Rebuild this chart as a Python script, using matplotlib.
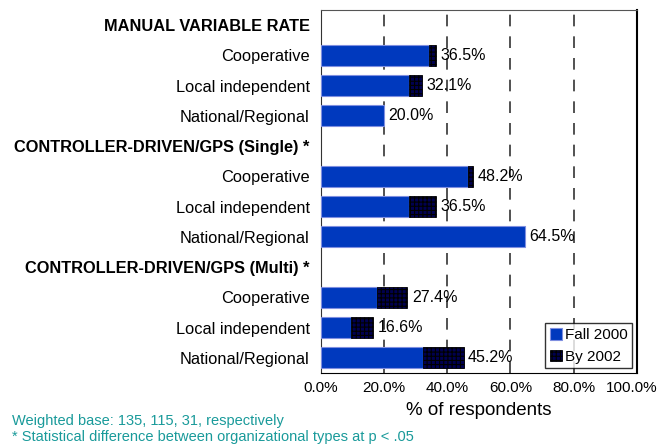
import matplotlib
matplotlib.use("Agg")
import matplotlib.pyplot as plt
import numpy as np

# labels, top to bottom (headers included as their own rows)
etiquetas = ["MANUAL VARIABLE RATE", "Cooperative", "Local independent", "National/Regional",
             "CONTROLLER-DRIVEN/GPS (Single) *", "Cooperative", "Local independent", "National/Regional",
             "CONTROLLER-DRIVEN/GPS (Multi) *", "Cooperative", "Local independent", "National/Regional"]
cabecalho = [True, False, False, False, True, False, False, False, True, False, False, False]

# % of respondents (None = header row)
fall2000 = [None, 34.2, 27.8, 20.0, None, 46.5, 27.8, 64.5, None, 17.7, 9.5, 32.3]
by2002 = [None, 36.5, 32.1, 20.0, None, 48.2, 36.5, 64.5, None, 27.4, 16.6, 45.2]
xticks = [0, 20, 40, 60, 80, 100]

azul = "#0039BE"
escuro = "#000050"

plt.rcParams['font.family'] = ['Liberation Sans', 'DejaVu Sans']
plt.rcParams['hatch.color'] = 'black'
plt.rcParams['hatch.linewidth'] = 0.8

fig = plt.figure(figsize=(6.6, 4.46), dpi=100)
ax = fig.add_axes([0.486, 0.1637, 0.479, 0.814])

y = np.arange(len(etiquetas))
for i in range(len(etiquetas)):
    if cabecalho[i]:
        continue
    f = fall2000[i]
    b = by2002[i]
    ax.barh(y[i], f, height=0.7, color=azul, edgecolor="#7F8FE0", linewidth=0.8, zorder=3,
            label="Fall 2000" if i == 1 else None)
    if b - f > 0:
        ax.barh(y[i], b - f, left=f, height=0.7, color=escuro, edgecolor="black", hatch="++++",
                linewidth=0.6, zorder=3, label="By 2002" if i == 1 else None)
    ax.text(b + 1.4, y[i], "%.1f%%" % b, va="center", ha="left", fontsize=11.5, zorder=4)

ax.set_xlim(0, 100)
ax.set_ylim(len(etiquetas) - 0.5, -0.5)
ax.set_xticks(xticks)
rotulos = ["%.1f%%" % v for v in xticks]
# o ultimo rotulo vai a parte, deslocado para nao sair da figura
ax.set_xticklabels(rotulos[:-1] + [""], fontsize=11)
ax.annotate(rotulos[-1], xy=(xticks[-1], 0), xycoords=("data", "axes fraction"),
            xytext=(-4, -6), textcoords="offset points", ha="center", va="top", fontsize=11)
ax.set_yticks(y)
ax.set_yticklabels(etiquetas, fontsize=11.8)
for lab, h in zip(ax.get_yticklabels(), cabecalho):
    if h:
        lab.set_fontweight("bold")
ax.tick_params(axis="y", length=0, pad=8)
ax.tick_params(axis="x", length=0, pad=6)

for v in [20, 40, 60, 80]:
    ax.axvline(v, color="#333333", linestyle=(0, (7, 6)), linewidth=1.2, zorder=1)

ax.spines["right"].set_linewidth(1.5)
ax.spines["top"].set_color("#555555")
ax.spines["left"].set_color("#333333")

ax.set_xlabel("% of respondents", fontsize=13.5, labelpad=5)

leg = ax.legend(loc="lower right", fontsize=11, frameon=True, fancybox=False,
                edgecolor="black", handlelength=0.8, handleheight=0.8, handletextpad=0.2,
                borderpad=0.3, labelspacing=0.5, borderaxespad=0.3)
leg.get_frame().set_linewidth(1.0)

cor_nota = "#199A9A"
fig.text(0.018, 0.056, "Weighted base: 135, 115, 31, respectively", color=cor_nota, fontsize=10.5, va="center")
fig.text(0.018, 0.02, "* Statistical difference between organizational types at p < .05", color=cor_nota,
         fontsize=10.5, va="center")

fig.savefig("out.png", dpi=100)
